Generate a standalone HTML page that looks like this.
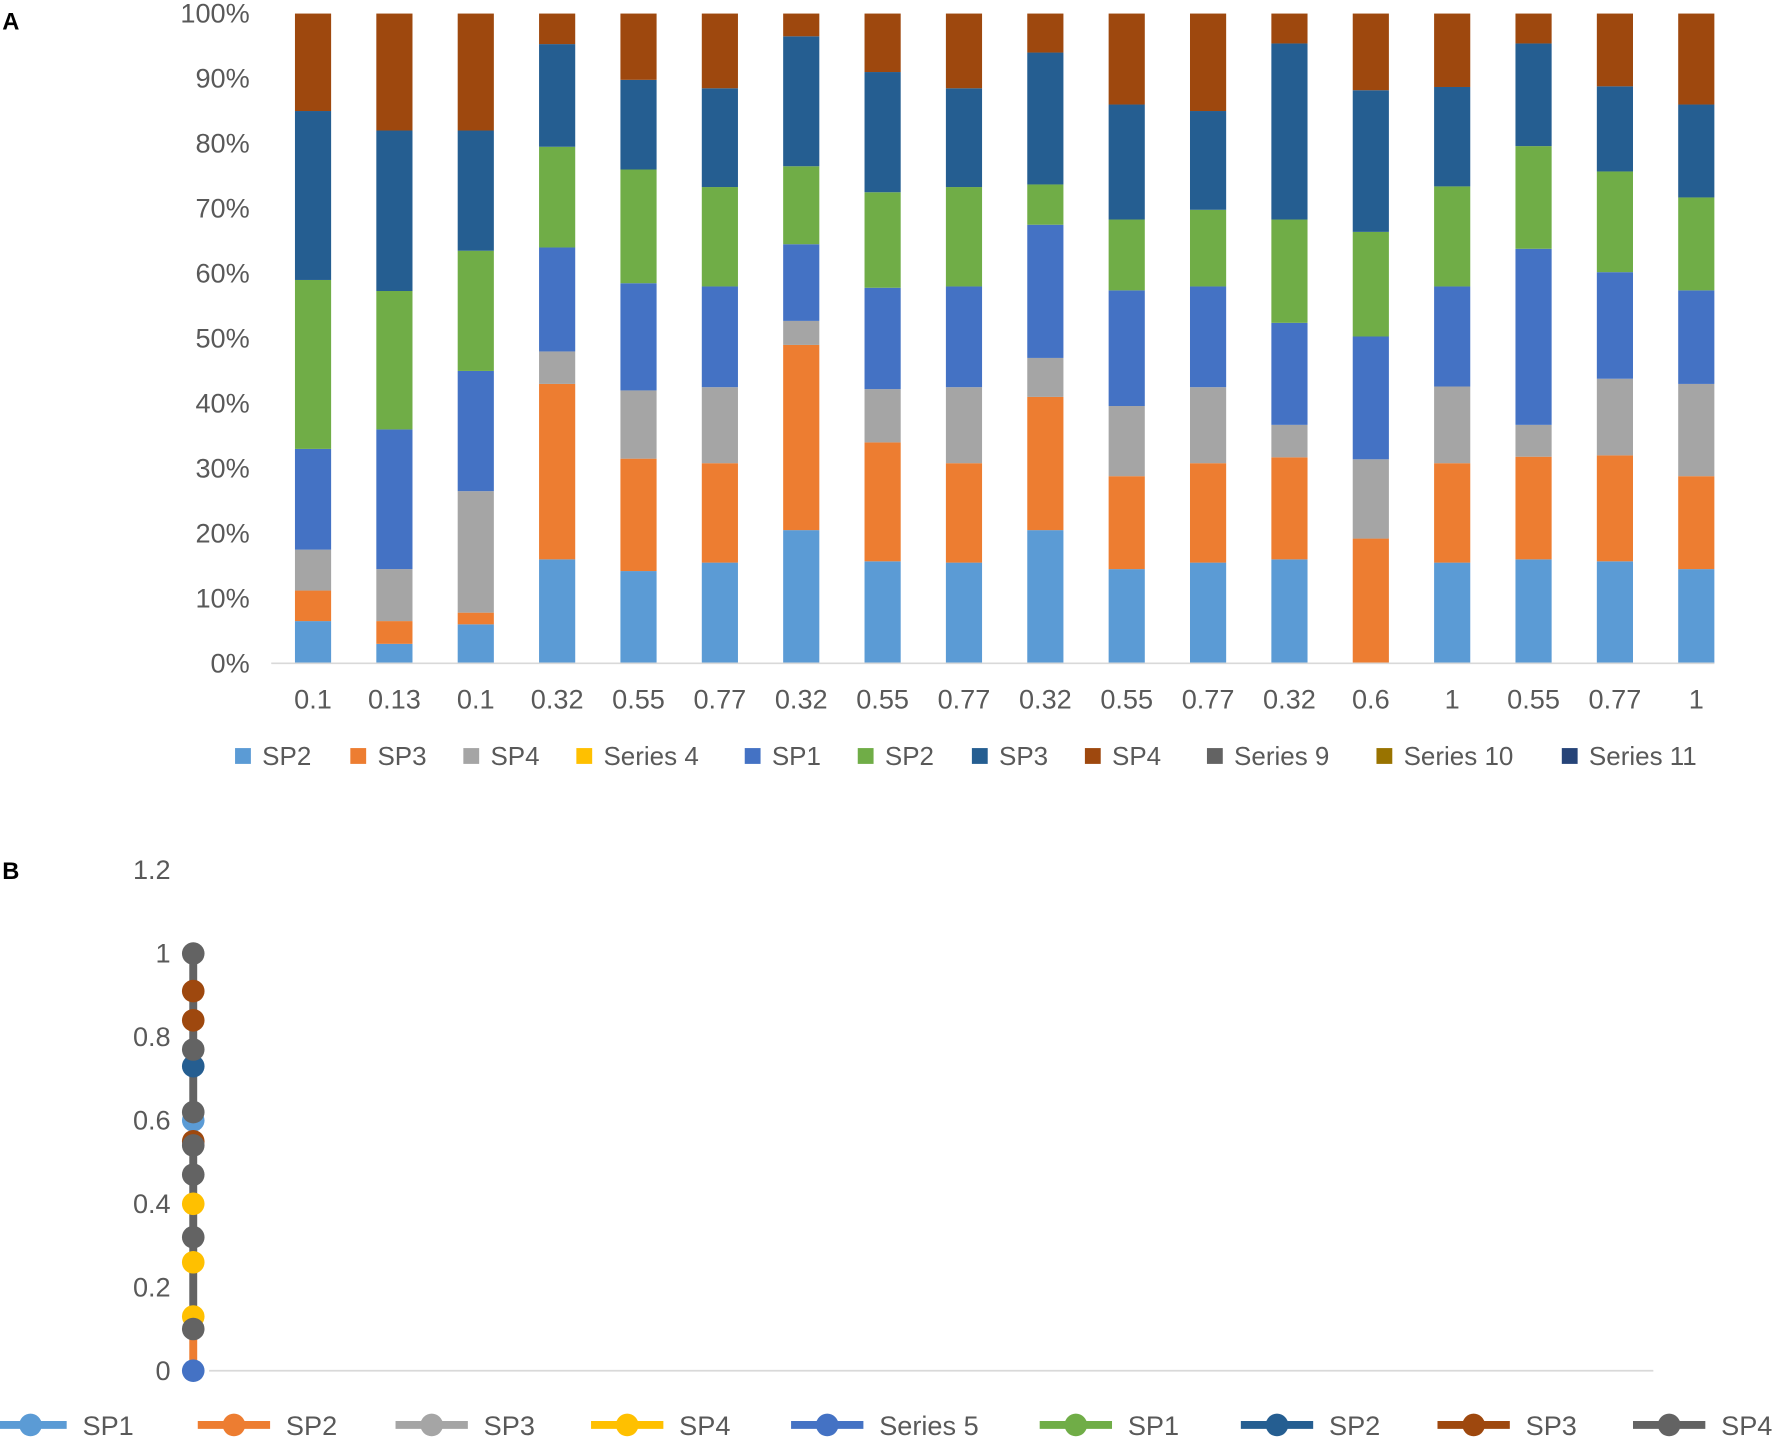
<!DOCTYPE html>
<html><head><meta charset="utf-8">
<style>
html,body{margin:0;padding:0;background:#fff;}
svg{display:block;font-family:"Liberation Sans",sans-serif;}
text{fill:#595959;}
</style></head>
<body>
<svg id="svg" width="1772" height="1447" viewBox="0 0 1568 1280.5" preserveAspectRatio="none" xmlns="http://www.w3.org/2000/svg">
<text x="2" y="26" font-size="21" font-weight="bold" style="fill:#000">A</text>
<text x="2" y="778" font-size="21" font-weight="bold" style="fill:#000">B</text>
<g id="chartA"></g>
<g id="chartB"></g>
</svg>
<script>
// ---- Chart A data ----
const categoriesA = ["0.1","0.13","0.1","0.32","0.55","0.77","0.32","0.55","0.77","0.32","0.55","0.77","0.32","0.6","1","0.55","0.77","1"];
const seriesNamesA = ["SP2","SP3","SP4","SP1","SP2","SP3","SP4"];
const sp2Light = [6.5,3,6,16,14.2,15.5,20.5,15.7,15.5,20.5,14.5,15.5,16,0,15.5,16,15.7,14.5];
const sp3Orange = [4.7,3.5,1.8,27,17.3,15.3,28.5,18.3,15.3,20.5,14.3,15.3,15.7,19.2,15.3,15.8,16.3,14.3];
const sp4Gray = [6.3,8,18.7,5,10.5,11.7,3.7,8.2,11.7,6,10.8,11.7,5,12.2,11.8,4.9,11.8,14.2];
const sp1Blue = [15.5,21.5,18.5,16,16.5,15.5,11.8,15.6,15.5,20.5,17.8,15.5,15.7,18.9,15.4,27.1,16.4,14.4];
const sp2Green = [26,21.3,18.5,15.5,17.5,15.3,12,14.7,15.3,6.2,10.9,11.8,15.9,16.1,15.4,15.8,15.5,14.3];
const sp3Dark = [26,24.7,18.5,15.8,13.8,15.2,20,18.5,15.2,20.3,17.7,15.2,27.1,21.8,15.3,15.8,13.1,14.3];
const sp4Brown = [15,18,18,4.7,10.2,11.5,3.5,9,11.5,6,14,15,4.6,11.8,11.3,4.6,11.2,14];
const yTicksA = [0,10,20,30,40,50,60,70,80,90,100];
const legendA = ["SP2","SP3","SP4","Series 4","SP1","SP2","SP3","SP4","Series 9","Series 10","Series 11"];

// ---- Chart B data ----
const yTicksB = [0,0.2,0.4,0.6,0.8,1,1.2];
const bYellow = [0.13,0.26,0.4];
const bGray = [0.1,0.32,0.47,0.54,0.62,0.77,1];
const bLightBlue = [0.6];
const bBrown = [0.55,0.84,0.91];
const bDarkBlue = [0.73];
const bBlue = [0];
const bOrangeLine = [0,0.1];
const legendB = ["SP1","SP2","SP3","SP4","Series 5","SP1","SP2","SP3","SP4"];

const NS="http://www.w3.org/2000/svg";
function mk(tag,attrs,parent,txt){const e=document.createElementNS(NS,tag);for(const k in attrs)e.setAttribute(k,attrs[k]);if(txt!==undefined)e.textContent=txt;parent.appendChild(e);return e;}

// Chart A
const gA=document.getElementById('chartA');
const colsA=["#5B9BD5","#ED7D31","#A5A5A5","#4472C4","#70AD47","#255E91","#9E480E"];
const legColsA=["#5B9BD5","#ED7D31","#A5A5A5","#FFC000","#4472C4","#70AD47","#255E91","#9E480E","#636363","#997300","#264478"];
const dataA=[sp2Light,sp3Orange,sp4Gray,sp1Blue,sp2Green,sp3Dark,sp4Brown];
const yA=v=>587-v*5.75;
const xA=i=>277+i*72;
yTicksA.forEach(t=>{
  const e=mk('text',{x:221,y:yA(t)+8,'font-size':24,'text-anchor':'end'},gA,t+'%');
  
  
});
categoriesA.forEach((c,i)=>{
  let cum=0;
  dataA.forEach((s,k)=>{
    const v=s[i];
    const r=mk('rect',{x:xA(i)-16,y:yA(cum+v),width:32,height:Math.max(0,yA(cum)-yA(cum+v)),fill:colsA[k]},gA);
    
    
    cum+=v;
  });
  const t=mk('text',{x:xA(i),y:627,'font-size':24,'text-anchor':'middle'},gA,c);
  
  
});
const axA=mk('line',{x1:240,x2:1517,y1:587,y2:587,stroke:'#d9d9d9','stroke-width':1.5},gA);


const legXA=[208,310,410,510,659,759,860,960,1068,1218,1382];
legendA.forEach((n,i)=>{
  const g=mk('g',{},gA);
  
  
  mk('rect',{x:legXA[i],y:662,width:14,height:14,fill:legColsA[i]},g);
  mk('text',{x:legXA[i]+24,y:677,'font-size':23},g,n);
});

// Chart B
const gB=document.getElementById('chartB');
const yB=v=>1213-v*(443/1.2);
const xB=171;
yTicksB.forEach(t=>{
  const e=mk('text',{x:151,y:yB(t)+8,'font-size':24,'text-anchor':'end'},gB,String(t));
  
  
});
const axB=mk('line',{x1:185,x2:1463,y1:1213,y2:1213,stroke:'#d9d9d9','stroke-width':1.5},gB);


const ol=mk('line',{x1:xB,x2:xB,y1:yB(bOrangeLine[0]),y2:yB(bOrangeLine[1]),stroke:'#ED7D31','stroke-width':7},gB);


const gl=mk('line',{x1:xB,x2:xB,y1:yB(Math.min(...bGray)),y2:yB(Math.max(...bGray)),stroke:'#636363','stroke-width':7},gB);


function pts(arr,col,name){arr.forEach(v=>{
  const c=mk('circle',{cx:xB,cy:yB(v),r:10,fill:col},gB);
  
  
});}
pts(bYellow,'#FFC000','point-sp4');
pts(bLightBlue,'#5B9BD5','point-sp1');
pts(bBrown,'#9E480E','point-sp3');
pts(bDarkBlue,'#255E91','point-sp2');
pts(bBlue,'#4472C4','point-series-5');
pts(bGray,'#636363','point-sp4-gray');
const legColsB=["#5B9BD5","#ED7D31","#A5A5A5","#FFC000","#4472C4","#70AD47","#255E91","#9E480E","#636363"];
const legXB=[-5,175,350,523,700,920,1098,1272,1445];
legendB.forEach((n,i)=>{
  const g=mk('g',{},gB);
  
  
  const x=legXB[i];
  mk('line',{x1:x,x2:x+64,y1:1261,y2:1261,stroke:legColsB[i],'stroke-width':7},g);
  mk('circle',{cx:x+32,cy:1261,r:10,fill:legColsB[i]},g);
  mk('text',{x:x+78,y:1270,'font-size':24},g,n);
});
</script>
</body></html>
